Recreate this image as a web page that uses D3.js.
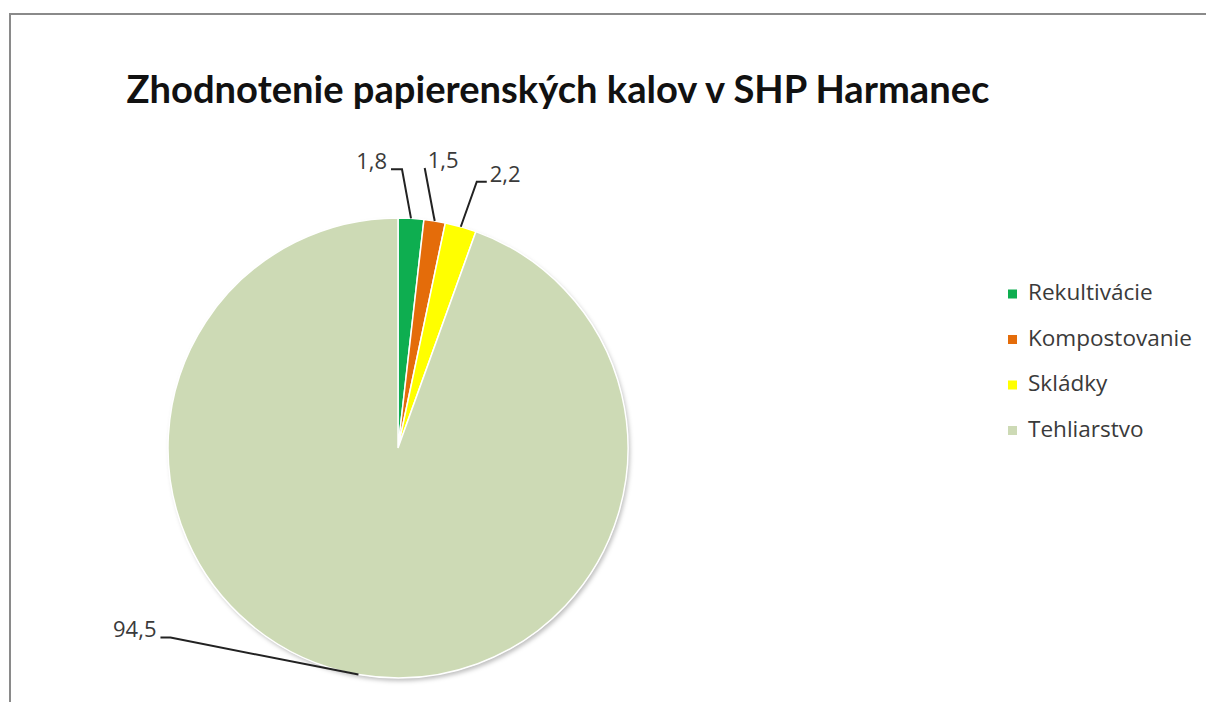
<!DOCTYPE html>
<html><head><meta charset="utf-8">
<script src="https://cdn.jsdelivr.net/npm/d3@7"></script>
<style>html,body{margin:0;padding:0;background:#fff;}svg{display:block;}text{font-variant-ligatures:none;}</style>
</head><body>
<script>
const title = "Zhodnotenie papierenských kalov v SHP Harmanec";
const categories = ["Rekultivácie", "Kompostovanie", "Skládky", "Tehliarstvo"];
const values = [1.8, 1.5, 2.2, 94.5];
const valueLabels = ["1,8", "1,5", "2,2", "94,5"];
const colors = ["#0EAE50", "#E46C0A", "#FFFF00", "#CDDAB5"];
// leader layout relative to slice anchor
const leaders = [
  {ex: -9, ey: -49, tx: -20, anchor: "end"},
  {ex: -10, ey: -53, tx: -10, anchor: "start"},
  {ex: 16, ey: -45, tx: 26, anchor: "start"},
  {ex: -188, ey: -37, tx: -198, anchor: "end"}
];

const W = 1206, H = 702;
const svg = d3.select("body").append("svg").attr("width", W).attr("height", H);
const font = "Lato, 'Open Sans', sans-serif";
const font2 = "'Open Sans', sans-serif";

// frame
svg.append("path").attr("d", `M10,${H+5} L10,14 L${W+5},14`)
  .attr("fill", "none").attr("stroke", "#8a8a8a").attr("stroke-width", 2);

// title
const t = svg.append("text").attr("x", 558).attr("y", 103)
  .attr("text-anchor", "middle").attr("font-family", font)
  .attr("font-weight", "bold").attr("font-size", 34).attr("fill", "#111").text(title);
const tw = t.node().getComputedTextLength();
t.attr("font-size", 34 * 863 / tw);

// shadow filter
const defs = svg.append("defs");
const f = defs.append("filter").attr("id", "sh").attr("x", "-10%").attr("y", "-10%").attr("width", "130%").attr("height", "130%");
f.append("feDropShadow").attr("dx", 2).attr("dy", 3).attr("stdDeviation", 2).attr("flood-color", "#000").attr("flood-opacity", 0.25);

const cx = 398, cy = 448, R = 230;
const pie = d3.pie().sort(null).value(d => d)(values);
const arc = d3.arc().innerRadius(0).outerRadius(R);
const g = svg.append("g").attr("transform", `translate(${cx},${cy})`);
g.append("circle").attr("r", R).attr("fill", colors[3]).attr("filter", "url(#sh)");
g.selectAll("path.slice").data(pie).enter().append("path")
  .attr("class", "slice").attr("d", arc)
  .attr("fill", (d, i) => colors[i]).attr("stroke", "#fff").attr("stroke-width", 1.5);

// labels with leaders
pie.forEach((d, i) => {
  const a = (d.startAngle + d.endAngle) / 2;
  const ax = Math.sin(a) * R, ay = -Math.cos(a) * R;
  const L = leaders[i];
  const exx = ax + L.ex, eyy = ay + L.ey, txx = ax + L.tx;
  g.append("path").attr("d", `M${ax},${ay} L${exx},${eyy} L${txx},${eyy}`)
    .attr("fill", "none").attr("stroke", "#222").attr("stroke-width", 2);
  g.append("text")
    .attr("x", txx + (L.anchor === "end" ? -4 : 3))
    .attr("y", eyy - 6)
    .attr("text-anchor", L.anchor).attr("dominant-baseline", "middle")
    .attr("font-family", font2).attr("font-size", 22).attr("fill", "#3a3a3a")
    .text(valueLabels[i]);
});

// legend
const leg = svg.append("g").attr("transform", "translate(1008,294)");
const items = leg.selectAll("g").data(categories).enter().append("g")
  .attr("transform", (d, i) => `translate(0,${i * 45.5})`);
items.append("rect").attr("x", 0).attr("y", -4.5).attr("width", 9).attr("height", 9)
  .attr("fill", (d, i) => colors[i]);
const lt = items.append("text").attr("x", 20).attr("y", 0).attr("dominant-baseline", "middle")
  .attr("font-family", font2).attr("font-size", 18).attr("fill", "#3a3a3a").text(d => d);
const kw = lt.nodes()[1].getComputedTextLength();
lt.attr("font-size", 18 * 164 / kw);
</script>
</body></html>
